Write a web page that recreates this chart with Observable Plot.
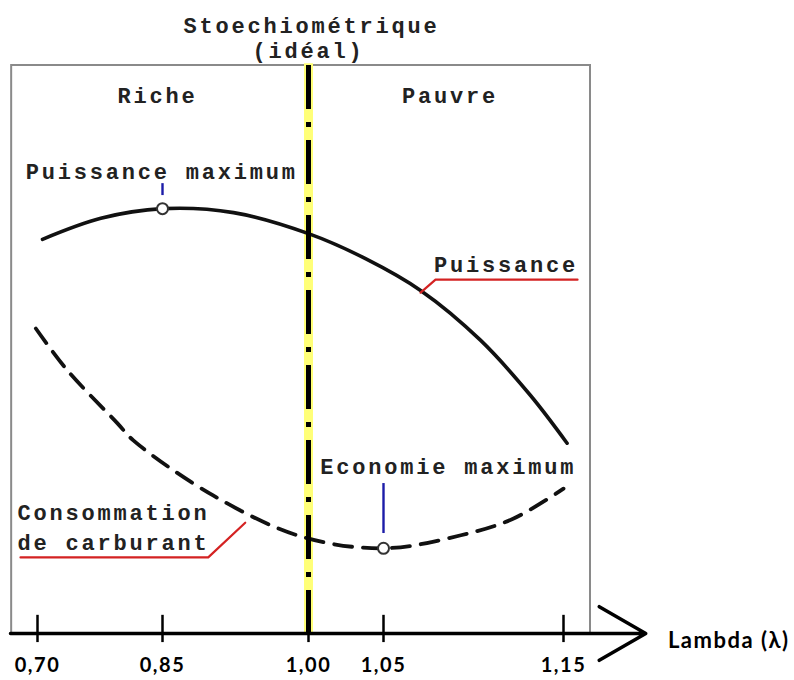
<!DOCTYPE html>
<html><head><meta charset="utf-8">
<script src="https://cdn.jsdelivr.net/npm/d3@7"></script>
<script src="https://cdn.jsdelivr.net/npm/@observablehq/plot@0.6"></script>
<style>
html,body{margin:0;padding:0;background:#fff;}
svg{display:block;overflow:visible;}
g[font-family="Liberation Mono"] text{letter-spacing:2.8px;}
g[font-family="Lato"] text{letter-spacing:1.5px;}
</style></head><body><div id="chart"></div>
<script>
// axis ticks
const lambdaTicks = [0.70, 0.85, 1.00, 1.05, 1.15];
const tickLabels = ["0,70", "0,85", "1,00", "1,05", "1,15"];
// Puissance (solid curve), relative units 0-100
const powerLambda = [0.706, 0.776, 0.85, 0.923, 1.00, 1.038, 1.0706, 1.104, 1.1317, 1.152];
const powerValue  = [69.4, 73.1, 74.8, 74.1, 70.4, 66.0, 60.4, 51.6, 41.9, 33.5];
// Consommation de carburant (dashed curve)
const consLambda = [0.698, 0.736, 0.796, 0.815, 0.902, 0.992, 1.05, 1.093, 1.122, 1.150];
const consValue  = [53.7, 46.3, 37.0, 34.0, 24.3, 17.1, 15.0, 17.3, 20.2, 25.5];
// optimum points
const optLambda = [0.85, 1.05];
const optValue = [74.8, 15.0];
// frame of the diagram
const boxLambda = [0.669, 1.165];
const boxValue = [0, 100];
const stoichLambda = 1.00;
const axisLambda = [0.6676, 1.1957];
// labels
const monoLabels = ["Riche", "Pauvre", "Puissance maximum", "Puissance", "Economie maximum", "Stoechiométrique", "(idéal)"];
const monoLambda = [0.844, 1.087, 0.849, 1.118, 1.086, 1.002, 1.0];
const monoValue  = [94.7, 94.7, 81.2, 64.8, 29.4, 107.0, 102.6];
const consLabels = ["Consommation", "de carburant"];
const consLabelLambda = [0.676, 0.676];
const consLabelValue = [21.3, 16.0];
const axisTitle = "Lambda (λ)";
// leader lines
const redPowerLeader = {lambda: [1.0706, 1.0789, 1.1578], value: [60.0, 62.3, 62.3]};
const redConsLeader = {lambda: [0.6796, 0.897, 0.935], value: [13.4, 13.4, 19.5]};
const blueTicks = [{lambda: 0.85, v1: 77.1, v2: 79.2}, {lambda: 1.05, v1: 17.6, v2: 26.4}];

const zip = (xs, ys) => xs.map((x, i) => ({x, y: ys[i]}));
const power = zip(powerLambda, powerValue);
const cons = zip(consLambda, consValue);
const opts = zip(optLambda, optValue);
const mono = monoLabels.map((t, i) => ({t, x: monoLambda[i], y: monoValue[i]}));
const consL = consLabels.map((t, i) => ({t, x: consLabelLambda[i], y: consLabelValue[i]}));
const ticks = lambdaTicks.map((x, i) => ({x, label: tickLabels[i]}));

const chart = Plot.plot({
  width: 794,
  height: 680,
  margin: 0,
  x: {type: "linear", domain: lambdaTicks, range: [37, 162, 308, 383, 563], axis: null},
  y: {domain: [0, 100], range: [633, 65], axis: null},
  marks: [
    Plot.rect([{}], {x1: boxLambda[0], x2: boxLambda[1], y1: boxValue[0], y2: boxValue[1], fill: "none", stroke: "#8a8a8a", strokeWidth: 2}),
    Plot.ruleX([stoichLambda], {x: d => d, y1: 0, y2: 100.3, stroke: "#ffff78", strokeWidth: 9}),
    Plot.line(power, {x: "x", y: "y", curve: "catmull-rom", stroke: "#111", strokeWidth: 3.6}),
    Plot.line(cons, {x: "x", y: "y", curve: "catmull-rom", stroke: "#111", strokeWidth: 3.8, strokeDasharray: "18,11", strokeLinecap: "round"}),
    Plot.ruleX([stoichLambda], {x: d => d, y1: 100, y2: -2, stroke: "#000", strokeWidth: 5, strokeDasharray: "44,13,5,13"}),
    Plot.line(zip(redPowerLeader.lambda, redPowerLeader.value), {x: "x", y: "y", stroke: "#d42222", strokeWidth: 2.2}),
    Plot.line(zip(redConsLeader.lambda, redConsLeader.value), {x: "x", y: "y", stroke: "#d42222", strokeWidth: 2.2}),
    Plot.ruleX(blueTicks, {x: "lambda", y1: "v1", y2: "v2", stroke: "#1c1ca8", strokeWidth: 2.4}),
    Plot.dot(opts, {x: "x", y: "y", r: 5.5, fill: "#fff", stroke: "#333", strokeWidth: 2}),
    Plot.text(mono, {x: "x", y: "y", text: "t", fontFamily: "Liberation Mono", fontWeight: "bold", fontSize: 22, fill: "#222", textAnchor: "middle"}),
    Plot.text(consL, {x: "x", y: "y", text: "t", fontFamily: "Liberation Mono", fontWeight: "bold", fontSize: 22, fill: "#222", textAnchor: "start"}),
    Plot.arrow([{}], {x1: axisLambda[0], y1: 0, x2: axisLambda[1], y2: 0, stroke: "#000", strokeWidth: 3.5, headLength: 23, headAngle: 60}),
    Plot.ruleX(ticks, {x: "x", y1: -1.6, y2: 3.2, stroke: "#000", strokeWidth: 2.5}),
    Plot.text(ticks, {x: "x", y: -5.6, text: "label", fontFamily: "Lato", fontWeight: "bold", fontSize: 20, fill: "#000"}),
    Plot.text([axisTitle], {x: 1.208, y: -1.4, text: d => d, textAnchor: "start", fontFamily: "Lato", fontWeight: "bold", fontSize: 22, fill: "#000"})
  ]
});
document.getElementById("chart").appendChild(chart);
</script></body></html>
